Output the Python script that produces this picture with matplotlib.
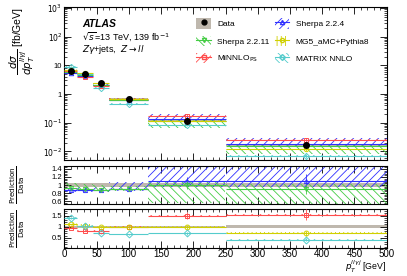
import numpy as np
import matplotlib
matplotlib.use('Agg')
import matplotlib.pyplot as plt
from matplotlib.ticker import FixedLocator, FixedFormatter, MultipleLocator, LogLocator, NullFormatter
from matplotlib.patches import Patch
from matplotlib.lines import Line2D

plt.rcParams['font.family'] = ['Liberation Sans', 'DejaVu Sans']
plt.rcParams['mathtext.fontset'] = 'dejavusans'
plt.rcParams['hatch.linewidth'] = 0.6

# binning in p_T^{llgj} [GeV]
edges = [0, 20, 45, 70, 130, 250, 500]

# measured cross section [fb/GeV]
data = [6.5, 5.0, 2.35, 0.70, 0.118, 0.0167]
data_stat = [0.03, 0.03, 0.04, 0.05, 0.10, 0.15]   # relative
data_syst = [0.05, 0.05, 0.05, 0.05, 0.05, 0.08]   # relative

# predictions as ratio to data, with band edges (ratio units)
sh224 = [0.87, 0.88, 0.88, 0.90, 1.10, 1.10]
sh224_dn = [0.05, 0.06, 0.06, 0.04, 0.15, 0.15]
sh224_up = [0.06, 0.07, 0.07, 0.18, 0.60, 0.60]

sh2211 = [0.92, 0.90, 0.88, 0.90, 1.00, 0.90]
sh2211_dn = [0.06, 0.06, 0.06, 0.05, 0.45, 0.40]
sh2211_up = [0.12, 0.12, 0.12, 0.08, 0.08, 0.12]

minnlo = [0.95, 0.82, 0.82, 1.00, 1.50, 1.55]
minnlo_err = [0.04, 0.04, 0.04, 0.03, 0.04, 0.04]

mg5 = [1.10, 1.05, 1.00, 1.00, 0.97, 0.70]
mg5_err = [0.05, 0.05, 0.05, 0.04, 0.05, 0.05]

matrix = [1.38, 1.02, 0.70, 0.65, 0.70, 0.42]
matrix_err = [0.05, 0.04, 0.03, 0.03, 0.03, 0.03]

edges = np.array(edges, dtype=float)
lo_e, hi_e = edges[:-1], edges[1:]
centers = 0.5 * (lo_e + hi_e)
widths = hi_e - lo_e
data = np.array(data)

band_grey = '#bfb8ae'
c_blue = '#3030ff'
c_green = '#44cc44'
c_red = '#ff4d4d'
c_yel = '#d0d000'
c_cyan = '#55cccc'

series = [
    # label, ratio, dn, up, color, hatch, marker
    ('Sherpa 2.2.4', sh224, sh224_dn, sh224_up, c_blue, '////', '^'),
    ('Sherpa 2.2.11', sh2211, sh2211_dn, sh2211_up, c_green, '\\\\\\\\', 'v'),
    (r'MiNNLO$_{\rm PS}$', minnlo, minnlo_err, minnlo_err, c_red, '////', 's'),
    ('MG5_aMC+Pythia8', mg5, mg5_err, mg5_err, c_yel, '||||', 'o'),
    ('MATRIX NNLO', matrix, matrix_err, matrix_err, c_cyan, '\\\\\\\\', 'D'),
]

W, H = 407, 276
fig = plt.figure(figsize=(W / 100, H / 100), dpi=100)
ax = fig.add_axes([64.3 / W, 1 - 160 / H, 322.4 / W, 153 / H])
r1 = fig.add_axes([64.3 / W, 1 - 204.3 / H, 322.4 / W, 38.6 / H])
r2 = fig.add_axes([64.3 / W, 1 - 247.7 / H, 322.4 / W, 38.7 / H])


def draw(a, scale, rat, dn, up, col, hatch, mk, ms=3.2):
    rat = np.array(rat); dn = np.array(dn); up = np.array(up)
    lo = (rat - dn) * scale
    hi = (rat + up) * scale
    a.bar(lo_e, hi - lo, bottom=lo, width=widths, align='edge', facecolor='none',
          edgecolor=col, hatch=hatch, linewidth=0, zorder=2)
    a.hlines(rat * scale, lo_e, hi_e, color=col, lw=0.8, zorder=3)
    a.errorbar(centers, rat * scale, yerr=np.array(data_stat) * rat * scale, fmt=mk, ms=ms,
               mfc='none', mec=col, color=col, elinewidth=0.6, mew=0.7, zorder=4)


# ---- main panel
syst = np.array(data_syst)
ax.bar(lo_e, 2 * syst * data, bottom=data * (1 - syst), width=widths, align='edge',
       color=band_grey, linewidth=0, zorder=1)
for lab, rat, dn, up, col, hatch, mk in series:
    draw(ax, data, rat, dn, up, col, hatch, mk)
ax.errorbar(centers, data, yerr=np.array(data_stat) * data, fmt='o', ms=4, color='black',
            elinewidth=0.8, zorder=6)
ax.set_yscale('log')
ax.set_ylim(5e-3, 1.1e3)
ax.yaxis.set_major_locator(FixedLocator([1e-2, 1e-1, 1, 10, 1e2, 1e3]))
ax.yaxis.set_major_formatter(FixedFormatter([r'$10^{-2}$', r'$10^{-1}$', '1', '10', r'$10^{2}$', r'$10^{3}$']))
ax.yaxis.set_minor_locator(LogLocator(base=10, subs=np.arange(2, 10), numticks=20))
ax.yaxis.set_minor_formatter(NullFormatter())
ax.set_xticklabels([])
ax.set_ylabel(r'$\dfrac{d\sigma}{dp_{T}^{ll\gamma j}}$ [fb/GeV]', fontsize=7.5, loc='top')
ax.yaxis.set_label_coords(-0.085, 1.0)

ax.text(0.055, 0.89, 'ATLAS', transform=ax.transAxes, fontsize=7.5, fontweight='bold',
        fontstyle='italic', va='center')
ax.text(0.055, 0.81, r'$\sqrt{s}$=13 TeV, 139 fb$^{-1}$', transform=ax.transAxes, fontsize=6.5, va='center')
ax.text(0.055, 0.72, r'$Z\gamma$+jets,  $Z\rightarrow ll$', transform=ax.transAxes, fontsize=6.5, va='center')

# legend
h_data = (Patch(facecolor=band_grey, edgecolor='none'),
          Line2D([], [], marker='o', color='black', ls='none', ms=3.5))
handles, labels = [h_data], ['Data']
for lab, rat, dn, up, col, hatch, mk in series:
    handles.append((Patch(facecolor='none', edgecolor=col, hatch=hatch, linewidth=0),
                    Line2D([], [], marker=mk, color=col, mfc='none', ms=3, lw=0.8)))
    labels.append(lab)
order = [0, 2, 3, 1, 4, 5]
ax.legend([handles[i] for i in order], [labels[i] for i in order], ncol=2, loc='upper left',
          bbox_to_anchor=(0.41, 0.925), frameon=False, fontsize=6, handlelength=1.7,
          handleheight=1.5, columnspacing=0.6, labelspacing=0.85, handletextpad=0.8,
          borderpad=0, borderaxespad=0)

# ---- ratio panel 1
r1.axhspan(1 - 0.04, 1 + 0.04, color=band_grey, lw=0, zorder=1)
for lab, rat, dn, up, col, hatch, mk in series[:2]:
    draw(r1, 1.0, rat, dn, up, col, hatch, mk, ms=3)
r1.set_ylim(0.52, 1.48)
r1.yaxis.set_major_locator(FixedLocator([0.6, 0.8, 1.0, 1.2, 1.4]))
r1.yaxis.set_major_formatter(FixedFormatter(['0.6', '0.8', '1', '1.2', '1.4']))
r1.yaxis.set_minor_locator(MultipleLocator(0.04))
r1.set_xticklabels([])

# ---- ratio panel 2
r2.bar(lo_e, 2 * syst, bottom=1 - syst, width=widths, align='edge', color=band_grey, lw=0, zorder=1)
for lab, rat, dn, up, col, hatch, mk in series[2:]:
    draw(r2, 1.0, rat, dn, up, col, hatch, mk, ms=3.5)
r2.set_ylim(0.05, 1.8)
r2.yaxis.set_major_locator(FixedLocator([0.5, 1.0, 1.5]))
r2.yaxis.set_major_formatter(FixedFormatter(['0.5', '1', '1.5']))
r2.yaxis.set_minor_locator(MultipleLocator(0.1))
r2.set_xlabel(r'$p_{T}^{ll\gamma j}$ [GeV]', fontsize=6.3, loc='right', va='bottom')
r2.xaxis.set_label_coords(1.0, -0.71)

for a in (r1, r2):
    a.set_ylabel(r'$\frac{\mathrm{Prediction}}{\mathrm{Data}}$', fontsize=7.5)
    a.yaxis.set_label_coords(-0.115, 0.5)

for a in (ax, r1, r2):
    a.set_xlim(0, 500)
    a.xaxis.set_major_locator(MultipleLocator(50))
    a.xaxis.set_minor_locator(MultipleLocator(10))
    a.tick_params(which='both', direction='in', top=True, right=True, labelsize=5.5, pad=1.5)
    a.tick_params(which='major', length=5, width=0.6)
    a.tick_params(which='minor', length=2.5, width=0.5)
    for s in a.spines.values():
        s.set_linewidth(0.8)
r2.tick_params(axis='x', labelsize=7, pad=1)

fig.savefig('out.png', dpi=100)
